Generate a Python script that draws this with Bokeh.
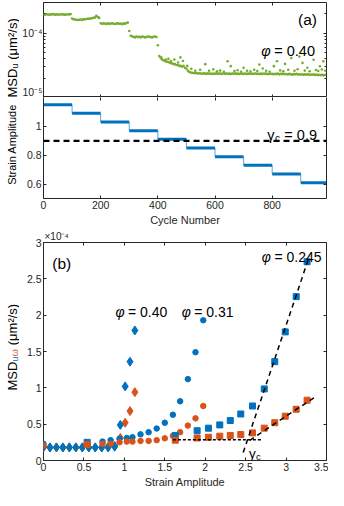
import math
import numpy as np
from bokeh.plotting import figure
from bokeh.layouts import column, row
from bokeh.core.properties import value
from bokeh.models import (Label, Span, FixedTicker, LinearAxis, LogAxis,
                          CustomJSTickFormatter, Range1d)
from bokeh.embed import file_html
from bokeh.resources import INLINE

# ======================= DATA =======================
# ---- panel (a), top: MSD_u of phi = 0.40, one reading every 5 cycles (x 1e-5 um^2/s)
cycle_first, cycle_last, cycle_every = 0, 990, 5
msd_u_040 = [
    19.6, 19.4, 19.7, 19.5, 19.3, 19.6, 19.5, 19.8, 19.4, 19.6,
    19.5, 19.3, 19.7, 19.5, 19.6, 19.4, 19.5, 19.7, 19.6, 19.8,
    16.9, 16.5, 16.3, 16.2, 16.0, 16.2, 16.3, 16.1, 16.4, 16.5,
    16.6, 16.8, 16.7, 17.1, 17.0, 17.4, 17.6, 18.6, 17.8, 17.3,
    14.3, 14.0, 14.2, 14.1, 13.9, 14.2, 14.0, 14.1, 14.3, 14.0,
    13.9, 14.1, 14.2, 14.0, 14.1, 13.8, 14.2, 14.0, 14.4, 14.6,
    10.8, 9.1, 8.9, 8.8, 8.6, 8.9, 8.7, 8.8, 8.6, 8.9,
    8.8, 8.6, 8.7, 8.9, 8.8, 8.7, 8.6, 8.8, 8.9, 8.7,
    6.5, 4.4, 4.1, 3.9, 3.8, 3.7, 3.6, 3.6, 3.5, 3.4,
    3.4, 3.3, 3.3, 3.2, 3.2, 3.1, 3.1, 3.0, 3.1, 2.9,
    2.8, 2.6, 2.5, 2.45, 2.42, 2.40, 2.38, 2.40, 2.36, 2.38,
    2.36, 2.34, 2.38, 2.35, 2.33, 2.37, 2.34, 2.36, 2.32, 2.35,
    2.34, 2.37, 2.33, 2.36, 2.35, 2.32, 2.38, 2.34, 2.36, 2.33,
    2.35, 2.31, 2.36, 2.34, 2.37, 2.33, 2.35, 2.32, 2.36, 2.34,
    2.33, 2.36, 2.31, 2.35, 2.34, 2.37, 2.32, 2.34, 2.36, 2.33,
    2.34, 2.32, 2.35, 2.31, 2.36, 2.33, 2.35, 2.30, 2.34, 2.32,
    2.33, 2.30, 2.34, 2.31, 2.35, 2.29, 2.33, 2.31, 2.34, 2.30,
    2.32, 2.28, 2.33, 2.30, 2.26, 2.31, 2.29, 2.33, 2.27, 2.30,
    2.27, 2.30, 2.25, 2.29, 2.26, 2.31, 2.24, 2.28, 2.26, 2.29,
    2.24, 2.27, 2.22, 2.26, 2.23, 2.25, 2.21, 2.25,
]
# scattered readings lying above the main band (cycle, x 1e-5 um^2/s)
extra_cycle = [412, 428, 437, 446, 458, 471, 479, 488, 503, 517,
               531, 548, 566, 579, 594, 607, 618, 631, 644, 655,
               668, 679, 691, 700, 712, 724, 737, 748, 755, 767,
               779, 791, 806, 817, 828, 839, 845, 856, 867, 878,
               889, 895, 906, 914, 923, 931, 945, 953, 961, 967,
               974, 979, 986]
extra_msd = [4.2, 3.9, 4.0, 3.7, 3.9, 3.5, 4.2, 3.7, 3.1, 2.8,
             2.6, 2.7, 3.3, 2.6, 2.74, 2.55, 2.62, 2.5, 3.66, 3.07,
             2.58, 2.65, 2.52, 2.9, 2.6, 2.55, 2.7, 2.58, 3.26, 2.83,
             2.6, 2.52, 3.07, 3.66, 2.64, 2.55, 3.33, 2.7, 4.1, 2.6,
             2.75, 4.35, 3.45, 2.62, 2.9, 2.56, 3.87, 2.68, 2.58, 3.07,
             2.72, 3.66, 2.6]

# ---- panel (a), bottom: strain amplitude schedule
amp_start = [0, 100, 200, 300, 400, 500, 600, 700, 800, 900]
amplitude = [1.15, 1.09, 1.03, 0.97, 0.91, 0.85, 0.79, 0.73, 0.67, 0.61]
gamma_c = 0.9

# ---- panel (b): MSD vs strain amplitude (x 1e-4 um^2/s)
dia_strain = [0, 0.08, 0.16, 0.24, 0.32, 0.40, 0.48, 0.56, 0.64, 0.72, 0.80, 0.88,
              0.95, 1.01, 1.07, 1.13]
dia_u = [0.19, 0.18, 0.18, 0.18, 0.18, 0.18, 0.18, 0.18, 0.18, 0.18, 0.18, 0.19,
         0.49, 1.02, 1.36, 1.79]
dia_w = [0.18, 0.18, 0.18, 0.18, 0.18, 0.18, 0.18, 0.18, 0.18, 0.18, 0.19, 0.20,
         0.31, 0.52, 0.68, 0.94]

cir_strain = [0, 0.73, 0.83, 0.94, 1.03, 1.10, 1.20, 1.30, 1.40, 1.50, 1.60, 1.69,
              1.785, 1.88, 1.976]
cir_u = [0.23, 0.26, 0.28, 0.30, 0.31, 0.32, 0.36, 0.39, 0.44, 0.52, 0.63, 0.815,
         1.12, 1.49, 1.93]
cir_w = [0.21, 0.23, 0.23, 0.25, 0.26, 0.26, 0.27, 0.27, 0.28, 0.305, 0.34, 0.39,
         0.48, 0.58, 0.75]

sq_strain = [0.54, 1.63, 1.90, 2.04, 2.18, 2.31, 2.44, 2.585, 2.73, 2.86, 2.99,
             3.125, 3.26]
sq_u = [0.25, 0.345, 0.41, 0.445, 0.49, 0.55, 0.64, 0.75, 0.985, 1.36, 1.77,
        2.255, 2.735]
sq_w = [0.22, 0.28, 0.31, 0.32, 0.335, 0.345, 0.357, 0.38, 0.445, 0.52, 0.61,
        0.705, 0.83]

plateau_level, plateau_from, plateau_to = 0.285, 1.60, 2.70
fit_u_slope, fit_u_icpt, fit_u_from, fit_u_to = 3.30, -8.04, 2.47, 3.29
fit_w_slope, fit_w_icpt, fit_w_from, fit_w_to = 0.7375, -1.603, 2.55, 3.36

# ======================= STYLE =======================
BLUE, ORANGE, GREEN = "#0072BD", "#D95319", "#77AC30"
AX, BLACK = "#262626", "#000000"
FONT = "Liberation Sans"
STRIP = 19             # width of the strip that carries the rotated y labels
TOTAL_H = 490
W = 328 - STRIP
LEFT, RIGHT = 40 - STRIP, 2


def make_fig(height, top, bottom, xr, yr, log=False):
    p = figure(width=W, height=height, x_range=xr, y_range=yr,
               y_axis_type="log" if log else "linear",
               output_backend="svg", toolbar_location=None,
               min_border_left=LEFT, min_border_right=RIGHT,
               min_border_top=top, min_border_bottom=bottom)
    p.grid.visible = False
    p.outline_line_color = AX
    p.outline_line_width = 1
    p.outline_line_alpha = 1
    p.background_fill_color = "white"
    p.border_fill_color = "white"
    if log:
        p.add_layout(LogAxis(), "right")
    else:
        p.add_layout(LinearAxis(), "right")
    p.add_layout(LinearAxis(), "above")
    return p


def style_axes(axes, ticker, labels, fmt=None, minor=0):
    for ax in axes:
        ax.ticker = ticker
        ax.axis_line_color = None
        ax.major_tick_in = 3
        ax.major_tick_out = 0
        ax.major_tick_line_color = AX
        ax.minor_tick_in = minor
        ax.minor_tick_out = 0
        ax.minor_tick_line_color = AX if minor else None
        ax.major_label_text_font = FONT
        ax.major_label_text_color = AX
        ax.axis_label_text_font = FONT
        ax.axis_label_text_font_style = "normal"
        ax.axis_label_text_color = AX
        ax.axis_label_text_font_size = "11px"
        ax.axis_label_standoff = 2
        if labels:
            ax.major_label_text_font_size = "10.5px"
            ax.major_label_standoff = 2
            if fmt is not None:
                ax.formatter = fmt
        else:
            ax.major_label_text_font_size = "0px"
            ax.major_label_standoff = 0
            ax.formatter = CustomJSTickFormatter(code="return '';")


def put(p, x, y, pieces, x0, y0, align_right=False, center=False):
    total = sum((pc[4] + pc[5]) * pc[1] for pc in pieces)
    if align_right:
        x0 = x0 - total
    if center:
        x0 = x0 - total / 2
    pos = 0.0
    for pc in pieces:
        text, size, color, shift, lead, wem = pc[:6]
        style = pc[6] if len(pc) > 6 else "normal"
        pos += lead * size
        p.add_layout(Label(x=x, y=y, x_offset=x0 + pos, y_offset=y0 - shift, text=text,
                           text_font=FONT, text_font_size=f"{size}px",
                           text_font_style=style, text_color=color,
                           text_align="left", text_baseline="alphabetic"))
        pos += wem * size


def put_rot(s, x_base, y_start, pieces):
    """rotated (bottom-to-top) text pieces in the label strip (strip coords: px, y up)"""
    pos = 0.0
    for text, size, color, shift, lead, wem in pieces:
        pos += lead * size
        s.text(x=[x_base + shift], y=[y_start + pos], text=[text], angle=math.pi / 2,
               text_font=value(FONT), text_font_size=value(f"{size}px"),
               text_color=color, text_align="left", text_baseline="alphabetic")
        pos += wem * size


num_fmt = CustomJSTickFormatter(code="return (Math.round(tick*10)/10).toString();")
log_fmt = CustomJSTickFormatter(code="return tick < 5e-5 ? '10\u207b\u2075' : '10\u207b\u2074';")

# ======================= PANEL (a) top =======================
cyc = np.arange(cycle_first, cycle_last, cycle_every)
p1 = make_fig(97, 2, 0, Range1d(0, cycle_last), Range1d(1e-5, 3e-4), log=True)
p1.scatter(cyc, np.array(msd_u_040) * 1e-5, marker="circle", size=2.6,
           fill_color=GREEN, line_color=None)
p1.scatter(extra_cycle, np.array(extra_msd) * 1e-5, marker="circle", size=2.6,
           fill_color=GREEN, line_color=None)
minor_log = [m * 10.0 ** e for e in (-5, -4) for m in range(2, 10) if m * 10.0 ** e <= 3e-4]
log_ticker = FixedTicker(ticks=[1e-5, 1e-4], minor_ticks=minor_log)
style_axes([p1.left[0]], log_ticker, True, log_fmt, minor=2)
p1.left[0].major_label_standoff = 1
style_axes([p1.right[0]], log_ticker, False, minor=2)
style_axes(p1.xaxis, FixedTicker(ticks=[0, 200, 400, 600, 800]), False)

put(p1, cycle_last, 3e-4, [("(a)", 15.5, BLACK, 0, 0, 1.222)], -9.5, -16.5, align_right=True)
put(p1, cycle_last, 3e-4, [("\u03c6", 14.5, BLACK, 0, 0, 0.62, "italic"),
                           ("= 0.40", 14.5, BLACK, 0, 0.278, 2.808)],
    -11.5, -48.0, align_right=True)

# ======================= PANEL (a) bottom =======================
p2 = make_fig(131, 0, 28, Range1d(0, cycle_last), Range1d(0.5, 1.2))
amp_end = amp_start[1:] + [cycle_last]
p2.segment(x0=amp_start[1:], y0=amplitude[:-1], x1=amp_start[1:], y1=amplitude[1:],
           line_width=1, line_color="#5AA7DE")
p2.segment(x0=amp_start, y0=amplitude, x1=amp_end, y1=amplitude,
           line_width=3, line_color=BLUE)
p2.add_layout(Span(location=gamma_c, dimension="width", line_color=BLACK,
                   line_dash="6 4", line_width=2.2))
x_ticks_a = FixedTicker(ticks=[0, 200, 400, 600, 800])
style_axes([p2.below[0]], x_ticks_a, True, num_fmt)
style_axes([p2.above[0]], x_ticks_a, False)
y_ticks_a = FixedTicker(ticks=[0.6, 0.8, 1.0])
style_axes([p2.left[0]], y_ticks_a, True, num_fmt)
style_axes([p2.right[0]], y_ticks_a, False)
# the shared edge with panel (a)-top is drawn once: box of this panel without its top side
p2.outline_line_color = None
for ax in (p2.below[0], p2.left[0], p2.right[0]):
    ax.axis_line_color = AX
    ax.axis_line_width = 1
p2.below[0].axis_label = "Cycle Number"
put(p2, cycle_last, 1.2, [("\u03b3", 14.5, BLACK, 0, 0, 0.5),
                          ("c", 10, BLACK, 3.5, 0.05, 0.5),
                          ("= 0.9", 14.5, BLACK, 0, 0.3, 2.252)],
    -9.5, -37.5, align_right=True)

# ======================= PANEL (b) =======================
p3 = make_fig(262, 12, 30, Range1d(0, 3.5), Range1d(0, 3.0))
p3.title.text = "\u00d710\u207b\u2074"
p3.title.align = "left"
p3.title.offset = 1
p3.title.standoff = 1
p3.title.text_font = FONT
p3.title.text_font_size = "10px"
p3.title.text_font_style = "normal"
p3.title.text_color = AX

p3.scatter(dia_strain, dia_w, marker="diamond", size=9, fill_color=ORANGE, line_color=ORANGE)
p3.scatter(dia_strain, dia_u, marker="diamond", size=9, fill_color=BLUE, line_color=BLUE)
p3.scatter(cir_strain, cir_u, marker="circle", size=5.5, fill_color=BLUE, line_color=BLUE)
p3.scatter(cir_strain, cir_w, marker="circle", size=5.5, fill_color=ORANGE, line_color=ORANGE)
p3.scatter(sq_strain, sq_u, marker="square", size=6, fill_color=BLUE, line_color=BLUE)
p3.scatter(sq_strain, sq_w, marker="square", size=6, fill_color=ORANGE, line_color=ORANGE)

p3.line([plateau_from, plateau_to], [plateau_level, plateau_level],
        line_color=BLACK, line_dash="3 2", line_width=1.5)
fu_x = np.array([fit_u_from, fit_u_to])
p3.line(fu_x, fit_u_slope * fu_x + fit_u_icpt, line_color=BLACK, line_dash="5 4", line_width=1.5)
fw_x = np.array([fit_w_from, fit_w_to])
p3.line(fw_x, fit_w_slope * fw_x + fit_w_icpt, line_color=BLACK, line_dash="5 4", line_width=1.5)

x_ticks_b = FixedTicker(ticks=[0, 0.5, 1, 1.5, 2, 2.5, 3, 3.5])
y_ticks_b = FixedTicker(ticks=[0, 0.5, 1, 1.5, 2, 2.5, 3])
style_axes([p3.below[0]], x_ticks_b, True, num_fmt)
style_axes([p3.above[0]], x_ticks_b, False)
style_axes([p3.left[0]], y_ticks_b, True, num_fmt)
style_axes([p3.right[0]], y_ticks_b, False)
p3.below[0].axis_label = "Strain Amplitude"

put(p3, 0, 3.0, [("(b)", 15.5, BLACK, 0, 0, 1.222)], 8.8, -21.3)
put(p3, 3.5, 3.0, [("\u03c6", 14, BLACK, 0, 0, 0.62, "italic"),
                   ("= 0.245", 14, BLACK, 0, 0.278, 3.364)],
    -5, -14.5, align_right=True)
put(p3, 1.21, 2.05, [("\u03c6", 14, BLACK, 0, 0, 0.62, "italic"),
                     ("= 0.40", 14, BLACK, 0, 0.278, 2.808)], 0, 0, center=True)
put(p3, 2.03, 2.05, [("\u03c6", 14, BLACK, 0, 0, 0.62, "italic"),
                     ("= 0.31", 14, BLACK, 0, 0.278, 2.808)], 0, 0, center=True)
put(p3, 2.54, 0.095, [("\u03b3", 13.5, BLACK, 0, 0, 0.5),
                      ("c", 9.5, BLACK, 3, 0.05, 0.5)], 0, 0)

# ======================= label strip (rotated y titles) =======================
s = figure(width=STRIP, height=TOTAL_H, x_range=Range1d(0, STRIP), y_range=Range1d(0, TOTAL_H),
           x_axis_location=None, y_axis_location=None, output_backend="svg",
           toolbar_location=None, min_border=0)
s.grid.visible = False
s.outline_line_color = None
s.background_fill_color = "white"
s.border_fill_color = "white"
# MSD_u label of panel (a): starts just above the panel's lower edge (page y 97)
put_rot(s, 12.0, TOTAL_H - 97, [("MSD", 13, BLACK, 0, 0, 2.222),
                                ("u", 9, BLACK, 2.5, 0, 0.556),
                                ("(\u03bcm\u00b2/s)", 13, BLACK, 0, 0.3, 3.186)])
# Strain Amplitude label, centred at page y 143
s.text(x=[11.5], y=[TOTAL_H - 144], text=["Strain Amplitude"], angle=math.pi / 2,
       text_font=value(FONT), text_font_size=value("11px"), text_color=BLACK,
       text_align="center", text_baseline="alphabetic")
# MSD_{u,w} label of panel (b)
put_rot(s, 12.0, TOTAL_H - 390, [("MSD", 13, BLACK, 0, 0, 2.222),
                                 ("u", 9, BLUE, 2.5, 0, 0.556),
                                 ("\u03c9", 9, ORANGE, 2.5, 0.05, 0.78),
                                 ("(\u03bcm\u00b2/s)", 13, BLACK, 0, 0.3, 3.186)])

layout = row(s, column(p1, p2, p3, spacing=0), spacing=0)
open("out.html", "w").write(file_html(layout, INLINE))
